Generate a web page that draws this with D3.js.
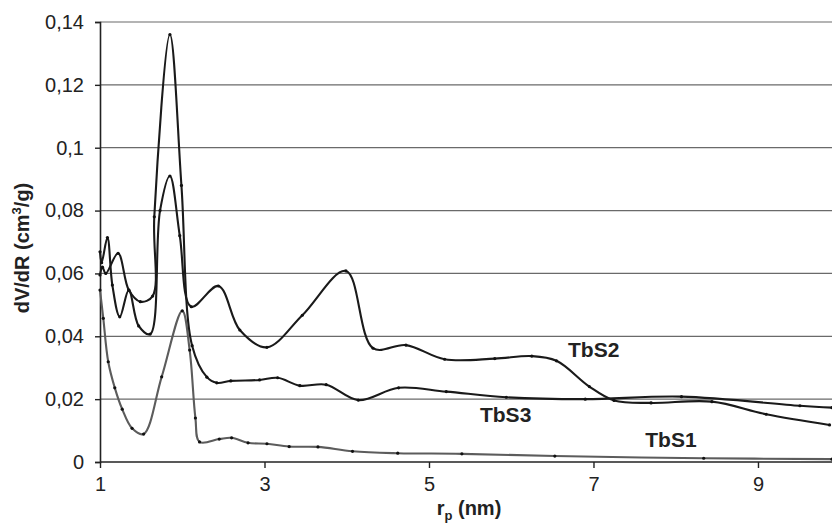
<!DOCTYPE html>
<html>
<head>
<meta charset="utf-8">
<script src="https://cdn.jsdelivr.net/npm/d3@7"></script>
<style>
  html, body { margin: 0; padding: 0; background: #fff; }
  svg { display: block; font-family: "Liberation Sans", Arial, Helvetica, sans-serif; }
</style>
</head>
<body>
<div id="chart"></div>
<script>
// pore radius (nm) vs dV/dR (cm3/g)
const tbs1X = [1.0, 1.04, 1.10, 1.18, 1.27, 1.39, 1.53, 1.75, 2.0, 2.09, 2.16, 2.21, 2.45, 2.6, 2.8, 3.03, 3.3, 3.65, 4.07, 4.62, 5.4, 6.53, 8.34, 9.9];
const tbs1Y = [0.0547, 0.0457, 0.0319, 0.0236, 0.0168, 0.0107, 0.0089, 0.0271, 0.0481, 0.0356, 0.014, 0.0064, 0.0073, 0.0077, 0.0061, 0.0058, 0.0049, 0.0048, 0.0034, 0.0028, 0.0026, 0.0019, 0.0012, 0.0009];

const tbs2X = [1.0, 1.02, 1.09, 1.15, 1.24, 1.35, 1.47, 1.61, 1.73, 1.85, 1.97, 2.11, 2.44, 2.70, 3.03, 3.46, 3.99, 4.32, 4.72, 5.19, 5.80, 6.25, 6.55, 6.95, 7.25, 7.7, 8.44, 9.1, 9.87];
const tbs2Y = [0.0669, 0.0634, 0.0714, 0.0563, 0.0462, 0.0547, 0.0433, 0.0407, 0.080, 0.091, 0.072, 0.0494, 0.056, 0.042, 0.0365, 0.0467, 0.0608, 0.0362, 0.0372, 0.0327, 0.0329, 0.0337, 0.0322, 0.024, 0.0196, 0.0188, 0.0192, 0.0152, 0.0118];

const tbs3X = [1.0, 1.03, 1.07, 1.22, 1.35, 1.49, 1.64, 1.66, 1.85, 1.99, 2.12, 2.30, 2.42, 2.59, 2.94, 3.16, 3.43, 3.75, 4.14, 4.63, 5.21, 5.94, 6.90, 8.07, 9.51, 9.9];
const tbs3Y = [0.0595, 0.062, 0.060, 0.0664, 0.0547, 0.051, 0.0528, 0.078, 0.136, 0.088, 0.037, 0.027, 0.0252, 0.0258, 0.0261, 0.0268, 0.0243, 0.0246, 0.0197, 0.0236, 0.0224, 0.0206, 0.020, 0.0208, 0.0179, 0.0173];

const seriesNames = ['TbS1', 'TbS2', 'TbS3'];
const xTicks = [1, 3, 5, 7, 9];
const yTicks = [0, 0.02, 0.04, 0.06, 0.08, 0.1, 0.12, 0.14];

const W= 832, H= 524;
const m= { l: 100, r: 0, t: 22, b: 62 };

const svg= d3.select('#chart').append('svg')
  .attr('width', W).attr('height', H);

const x= d3.scaleLinear().domain([1, 9.9]).range([m.l, W-m.r]);
const y= d3.scaleLinear().domain([0, 0.14]).range([H-m.b, m.t]);

const fmt= d => String(+d.toFixed(2)).replace('.', ',');

// gridlines
svg.append('g')
  .selectAll('line')
  .data(yTicks.filter(d => d>0))
  .join('line')
    .attr('x1', x(1)).attr('x2', W)
    .attr('y1', d => y(d)).attr('y2', d => y(d))
    .attr('stroke', '#6a6a6a').attr('stroke-width', 1.2);

// axes
const gy= svg.append('g')
  .attr('transform', `translate(${x(1)},0)`)
  .call(d3.axisLeft(y).tickValues(yTicks).tickFormat(fmt).tickSize(5).tickPadding(11));
const gx= svg.append('g')
  .attr('transform', `translate(0,${y(0)})`)
  .call(d3.axisBottom(x).tickValues(xTicks).tickFormat(d3.format('d')).tickSize(6).tickPadding(9));

[gx, gy].forEach(g => {
  g.select('.domain').attr('stroke', '#222').attr('stroke-width', 1.6);
  g.selectAll('.tick line').attr('stroke', '#222').attr('stroke-width', 1.4);
  g.selectAll('.tick text').attr('font-size', 20).attr('fill', '#222')
    .attr('font-family', '"Liberation Sans", Arial, sans-serif');
});
gx.select('.domain').attr('d', `M${x(1)},0H${W}`);

// series
const series= [
  { name: seriesNames[0], xs: tbs1X, ys: tbs1Y, color: '#5c5c5c' },
  { name: seriesNames[1], xs: tbs2X, ys: tbs2Y, color: '#1a1a1a' },
  { name: seriesNames[2], xs: tbs3X, ys: tbs3Y, color: '#1a1a1a' }
];

const line= d3.line()
  .x(d => x(d[0])).y(d => y(d[1]))
  .curve(d3.curveCatmullRom.alpha(0.5));

series.forEach(s => {
  const pts= s.xs.map((v, i) => [v, s.ys[i]]);
  svg.append('path')
    .datum(pts)
    .attr('fill', 'none')
    .attr('stroke', s.color)
    .attr('stroke-width', 2.1)
    .attr('stroke-linejoin', 'round')
    .attr('d', line);
  svg.append('g')
    .selectAll('circle')
    .data(pts)
    .join('circle')
      .attr('cx', d => x(d[0])).attr('cy', d => y(d[1]))
      .attr('r', 1.6)
      .attr('fill', '#111');
});

// series labels
const labels= [
  { text: seriesNames[1], at: [6.69, 0.0334] },
  { text: seriesNames[2], at: [5.62, 0.0127] },
  { text: seriesNames[0], at: [7.63, 0.0048] }
];
svg.append('g')
  .selectAll('text')
  .data(labels)
  .join('text')
    .attr('x', d => x(d.at[0]))
    .attr('y', d => y(d.at[1]))
    .attr('font-size', 21)
    .attr('font-weight', 'bold')
    .attr('fill', '#222')
    .text(d => d.text);

// axis titles
const xt= svg.append('text')
  .attr('x', 469).attr('y', 515)
  .attr('text-anchor', 'middle')
  .attr('font-size', 20).attr('font-weight', 'bold').attr('fill', '#222');
xt.append('tspan').text('r');
xt.append('tspan').attr('font-size', 13).attr('dy', 5).text('p');
xt.append('tspan').attr('dy', -5).text(' (nm)');

const yt= svg.append('text')
  .attr('transform', 'translate(29,248) rotate(-90)')
  .attr('text-anchor', 'middle')
  .attr('font-size', 20).attr('font-weight', 'bold').attr('fill', '#222');
yt.append('tspan').text('dV/dR (cm');
yt.append('tspan').attr('font-size', 13).attr('dy', -8).text('3');
yt.append('tspan').attr('dy', 8).text('/g)');
</script>
</body>
</html>
